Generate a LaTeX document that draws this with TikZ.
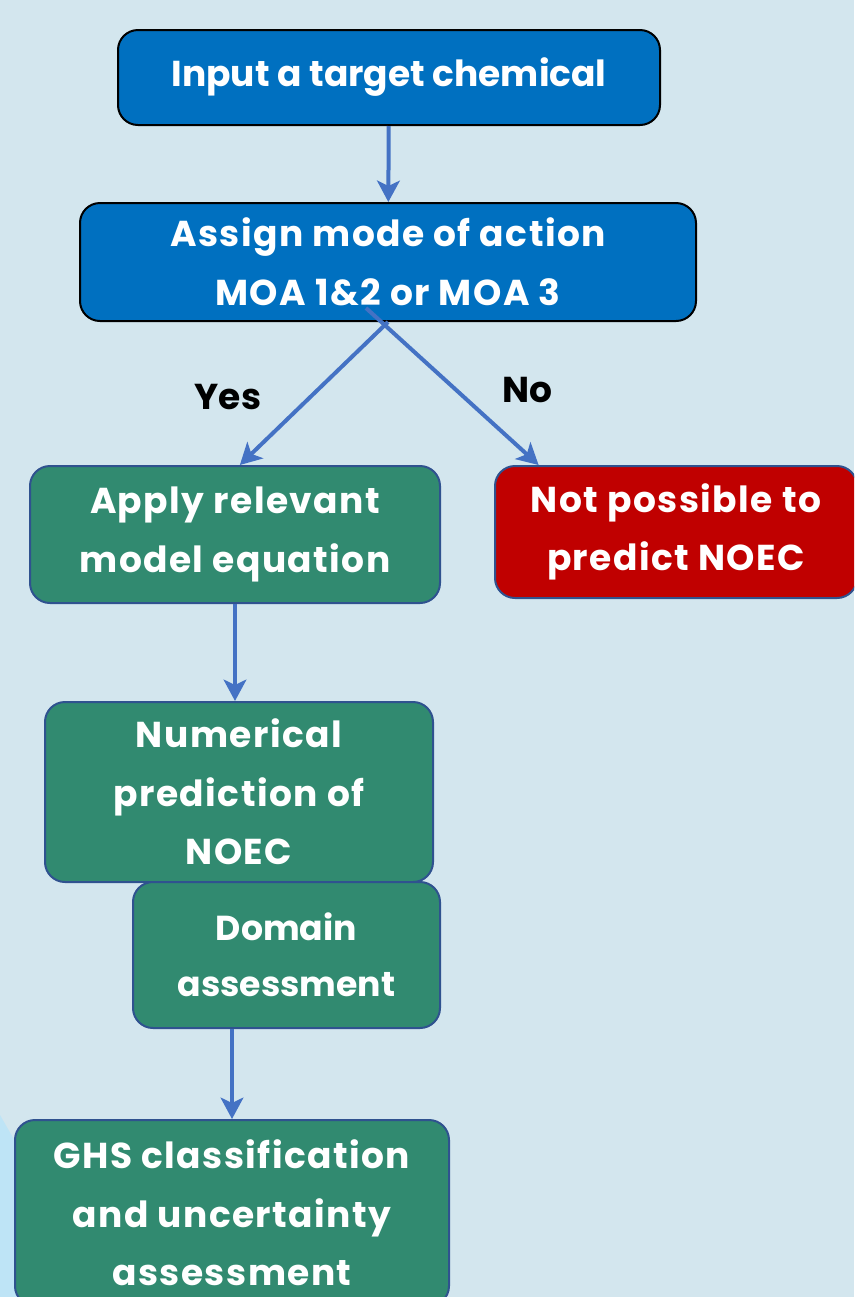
\documentclass[tikz,border=0pt]{standalone}
\usepackage{fontspec}
\setmainfont{Poppins}
\newfontfamily\widefont{Poppins}[LetterSpace=4]
\usepackage{tikz}
\usetikzlibrary{arrows.meta,positioning}
\definecolor{bgblue}{RGB}{211,230,238}
\definecolor{paleblue}{RGB}{190,228,246}
\definecolor{stepblue}{RGB}{0,112,192}
\definecolor{stepgreen}{RGB}{49,138,112}
\definecolor{stepred}{RGB}{192,0,0}
\definecolor{linkblue}{RGB}{68,114,196}
\definecolor{edgeblue}{RGB}{47,82,143}
\tikzset{
    x=0.75pt, y=-0.75pt,
    font=\bfseries\fontsize{27}{44}\selectfont,
    box/.style={rounded corners=15pt,line width=1.5pt,inner sep=0pt,align=center,text=white},
    blue box/.style={box,draw=black,fill=stepblue},
    green box/.style={box,draw=edgeblue,fill=stepgreen,font=\widefont\bfseries\fontsize{27}{44}\selectfont},
    red box/.style={box,draw=edgeblue,fill=stepred,font=\widefont\bfseries\fontsize{27}{44}\selectfont},
    link/.style={-{Stealth[length=16pt,width=17pt,inset=4pt]},draw=linkblue,line width=3pt},
    answer/.style={text=black}
}

\begin{document}
\begin{tikzpicture}
    \clip (0,0) rectangle (854,1297);
    \fill[bgblue] (0,0) rectangle (854,1297);
    \fill[paleblue] (0,1115) -- (20,1150) -- (20,1297) -- (0,1297) -- cycle;

    \node[blue box, minimum width=406.5pt, minimum height=71.25pt] (input) at (389,77.5) {Input a target chemical};
    \node[blue box, minimum width=462pt, minimum height=88.5pt, font=\widefont\bfseries\fontsize{27}{44}\selectfont] (assign) at (388,262) {Assign mode of action\\MOA 1\&2 or MOA 3};
    \node[green box, minimum width=307.5pt, minimum height=102.75pt] (apply) at (235,534.5) {Apply relevant\\model equation};
    \node[red box, minimum width=271.5pt, minimum height=99pt] (notpossible) at (676,532) {Not possible to\\predict NOEC};
    \node[green box, minimum width=291pt, minimum height=135pt] (numeric) at (239,792) {Numerical\\prediction of\\NOEC};
    \node[green box, minimum width=230.25pt, minimum height=109.5pt, font=\bfseries\fontsize{26}{42}\selectfont] (domain) at (286.5,955) {Domain\\assessment};
    \node[green box, minimum width=325.5pt, minimum height=139.5pt] (ghs) at (232,1213) {GHS classification\\and uncertainty\\assessment};
    \node[answer] (yes) at (228,397) {Yes};
    \node[answer] (no) at (527,390) {No};
    \coordinate (nofrom) at (366,308);

    \draw[link] (input) -- (assign);
    \draw[link] (assign.south) -- (apply.86);
    \draw[link] (nofrom) -- (notpossible.154);
    \draw[link] (apply) -- (apply.south |- numeric.north);
    \draw[link] (domain.south -| ghs.north) -- (ghs);
\end{tikzpicture}
\end{document}
